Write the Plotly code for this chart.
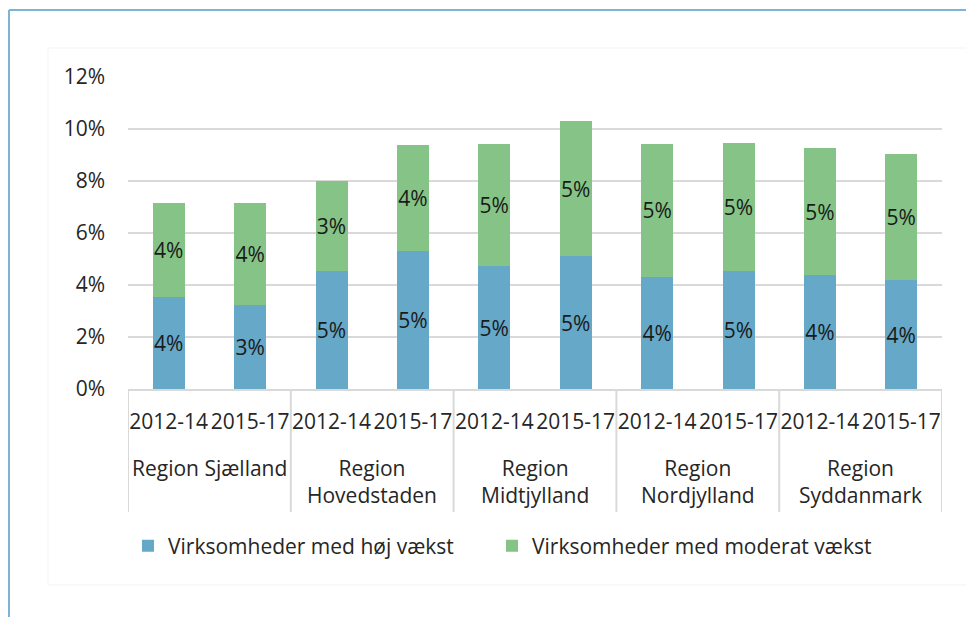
import plotly.graph_objects as go

regions = ["Region Sjælland", "Region<br>Hovedstaden", "Region<br>Midtjylland",
           "Region<br>Nordjylland", "Region<br>Syddanmark"]
periods = ["2012-14", "2015-17"]

# shares (fractions) per region x period, in order
hoj_vaekst = [0.0352, 0.0325, 0.0453, 0.0530, 0.0472, 0.0510, 0.0431, 0.0454, 0.0438, 0.0418]
moderat_vaekst = [0.0364, 0.0389, 0.0347, 0.0409, 0.0471, 0.0520, 0.0512, 0.0494, 0.0488, 0.0486]

series_names = ["Virksomheder med høj vækst", "Virksomheder med moderat vækst"]
colors = ["#65a8c8", "#85c486"]

n_per = len(periods)
idx = list(range(len(regions) * n_per))
tick_text = [p for _ in regions for p in periods]

OFF = 8  # page body margin
W, H = 974, 617
L, R, T, B = 120, 40, 69, 236
pw, ph = W - L - R, H - T - B
FS = 21
TXT = "#262626"

def px2paper(x, y):
    x -= OFF
    y -= OFF
    return (x - L) / pw, (H - B - y) / ph

fig = go.Figure()
legends = ["legend", "legend2"]
for name, vals, col, lg in zip(series_names, [hoj_vaekst, moderat_vaekst], colors, legends):
    fig.add_trace(go.Bar(
        x=idx, y=vals, name=name, legend=lg,
        marker=dict(color=col, line=dict(width=0)),
        texttemplate="%{y:.0%}", textposition="inside", insidetextanchor="middle",
        textangle=0, constraintext="none",
        textfont=dict(size=FS, color="#1a1a1a", family="Open Sans"),
        hoverinfo="skip",
    ))

shapes = []
x0, y0 = px2paper(9, 10)
x1, y1 = px2paper(990, 10)
xb, yb = px2paper(9, 640)
shapes.append(dict(type="line", xref="paper", yref="paper", x0=x0, y0=y0, x1=x1, y1=y1,
                   line=dict(color="#7db4d4", width=2), layer="below"))
shapes.append(dict(type="line", xref="paper", yref="paper", x0=x0, y0=y0, x1=xb, y1=yb,
                   line=dict(color="#7db4d4", width=2), layer="below"))
ax0, ay0 = px2paper(48, 48)
ax1, ay1 = px2paper(990, 585)
shapes.append(dict(type="rect", xref="paper", yref="paper", x0=ax0, y0=ay1, x1=ax1, y1=ay0,
                   line=dict(color="#f3f3f3", width=1), layer="below"))

# group dividers below the axis
_, div_bottom = px2paper(0, 512)
for g in range(len(regions) + 1):
    xpos = g * n_per - 0.5
    shapes.append(dict(type="line", xref="x", yref="paper", x0=xpos, x1=xpos, y0=0, y1=div_bottom,
                       line=dict(color="#d9d9d9", width=2)))

# region (group) labels
_, lab_top = px2paper(0, 452)
annotations = []
for g, reg in enumerate(regions):
    annotations.append(dict(x=g * n_per + (n_per - 1) / 2, xref="x", y=lab_top, yref="paper",
                            text=reg, showarrow=False, yanchor="top", xanchor="center",
                            font=dict(size=FS, color=TXT)))

l1x, ly = px2paper(128, 546)
l2x, _ = px2paper(492, 546)

fig.update_layout(
    width=W, height=H,
    margin=dict(l=L, r=R, t=T, b=B),
    paper_bgcolor="white", plot_bgcolor="white",
    barmode="stack", bargap=0.607,
    font=dict(family="Open Sans", size=FS, color=TXT),
    showlegend=True,
    legend=dict(orientation="h", x=l1x, y=ly, xanchor="left", yanchor="middle",
                font=dict(size=FS, color=TXT), itemclick=False),
    legend2=dict(orientation="h", x=l2x, y=ly, xanchor="left", yanchor="middle",
                 font=dict(size=FS, color=TXT), itemclick=False),
    shapes=shapes,
    annotations=annotations,
    xaxis=dict(range=[-0.5, len(idx) - 0.5], tickvals=idx, ticktext=tick_text,
               showline=True, linecolor="#d9d9d9", linewidth=2, ticks="", tickangle=0,
               ticklabelstandoff=13, tickfont=dict(size=FS, color=TXT), showgrid=False,
               zeroline=False),
    yaxis=dict(range=[0, 0.12], dtick=0.02, tickformat=".0%", showgrid=True,
               gridcolor="#d9d9d9", gridwidth=2, zeroline=False, showline=False,
               ticklabelstandoff=22, tickfont=dict(size=FS, color=TXT)),
)

fig.write_html("out.html")
